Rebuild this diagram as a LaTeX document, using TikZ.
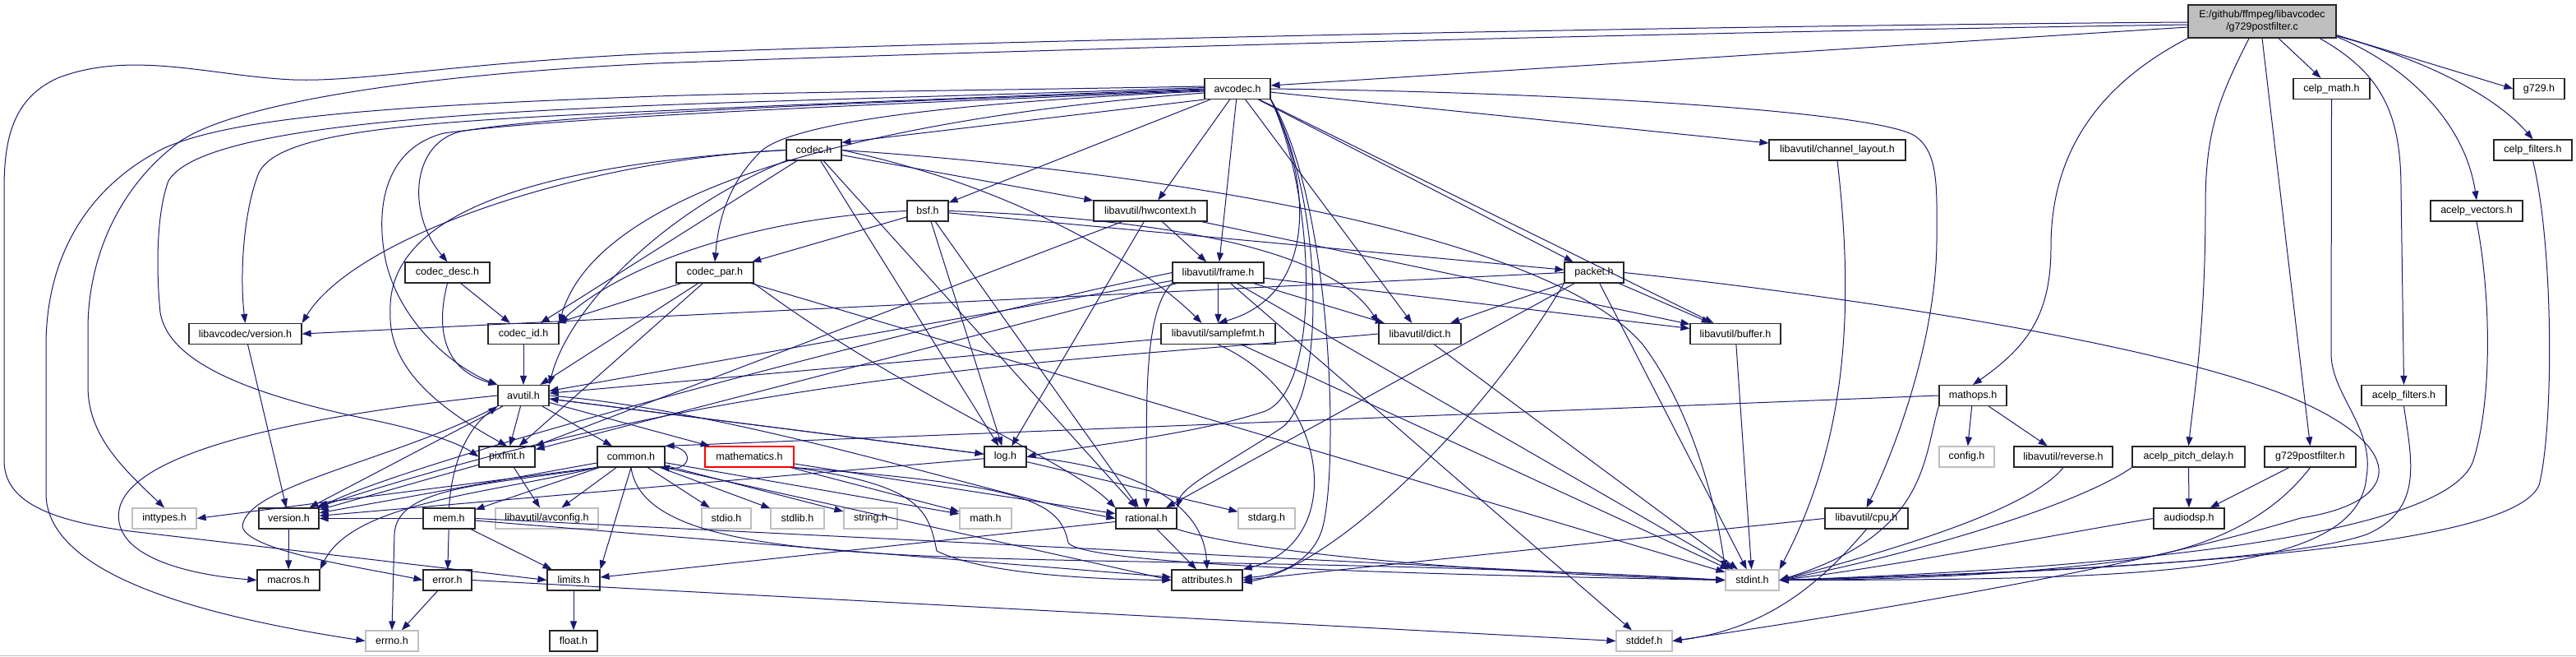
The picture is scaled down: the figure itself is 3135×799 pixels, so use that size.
\documentclass[tikz,border=0pt]{standalone}
\usepackage{fontspec}
\setmainfont{Liberation Sans}
\usetikzlibrary{arrows.meta}
\definecolor{eb}{HTML}{191970}
\definecolor{grey75}{HTML}{BFBFBF}
\newcommand\fsz{\fontsize{12.5}{14.5}\selectfont}
\tikzset{
  nb/.style={draw=black!85, line width=1.2pt, fill=white, minimum height=25pt, inner sep=0pt, font=\fsz, text=black},
  gn/.style={nb, draw=grey75},
  rn/.style={nb, draw=red},
  e/.style={draw=eb, line width=1pt, line join=round, -{Triangle[length=11pt,width=8pt]}},
}
\begin{document}
\begin{tikzpicture}[x=1pt,y=-1pt]
\useasboundingbox (0,0) rectangle (3135,799);
\fill[white] (0,0) rectangle (3135,799);
\draw[grey75, line width=1.5pt] (0,797.5) -- (3135,797.5);

% ---------- nodes ----------
\node[nb, fill=grey75, minimum width=180pt, minimum height=40pt, align=center] (main) at (2753,26) {E:/github/ffmpeg/libavcodec\\/g729postfilter.c};
\node[nb, minimum width=80pt]  (avcodec) at (1506,108) {avcodec.h};
\node[nb, minimum width=93pt]  (celp_math) at (2837.5,108) {celp\_math.h};
\node[nb, minimum width=62pt]  (g729) at (3090,108) {g729.h};
\node[nb, minimum width=67pt]  (codec) at (990.5,182.5) {codec.h};
\node[nb, minimum width=166pt] (channel_layout) at (2236,182.5) {libavutil/channel\_layout.h};
\node[nb, minimum width=95pt]  (celp_filters) at (3082.5,182.5) {celp\_filters.h};
\node[nb, minimum width=50pt]  (bsf) at (1129,256.5) {bsf.h};
\node[nb, minimum width=138pt] (hwcontext) at (1400,256.5) {libavutil/hwcontext.h};
\node[nb, minimum width=112pt] (acelp_vectors) at (3014,256.5) {acelp\_vectors.h};
\node[nb, minimum width=103pt] (codec_desc) at (544.5,331.5) {codec\_desc.h};
\node[nb, minimum width=94pt]  (codec_par) at (870,331.5) {codec\_par.h};
\node[nb, minimum width=111pt] (frame) at (1482.5,331.5) {libavutil/frame.h};
\node[nb, minimum width=72pt]  (packet) at (1940,331.5) {packet.h};
\node[nb, minimum width=137pt] (lavc_version) at (298.5,406) {libavcodec/version.h};
\node[nb, minimum width=86pt]  (codec_id) at (637,406) {codec\_id.h};
\node[nb, minimum width=139pt] (samplefmt) at (1482.5,406) {libavutil/samplefmt.h};
\node[nb, minimum width=100pt] (dict) at (1728,406) {libavutil/dict.h};
\node[nb, minimum width=110pt] (buffer) at (2112,406) {libavutil/buffer.h};
\node[nb, minimum width=62pt]  (avutil) at (637,481) {avutil.h};
\node[nb, minimum width=82pt]  (mathops) at (2401,481) {mathops.h};
\node[nb, minimum width=103pt] (acelp_filters) at (2925.5,481) {acelp\_filters.h};
\node[nb, minimum width=68pt]  (pixfmt) at (617,555.5) {pixfmt.h};
\node[nb, minimum width=82pt]  (common) at (768,555.5) {common.h};
\node[rn, minimum width=108pt] (mathematics) at (912,555.5) {mathematics.h};
\node[nb, minimum width=51pt]  (log) at (1223.5,555.5) {log.h};
\node[gn, minimum width=67pt]  (config) at (2393.5,555.5) {config.h};
\node[nb, minimum width=120pt] (reverse) at (2511,555.5) {libavutil/reverse.h};
\node[nb, minimum width=137pt] (acelp_pitch_delay) at (2663.5,555.5) {acelp\_pitch\_delay.h};
\node[nb, minimum width=111pt] (g729pfh) at (2811.5,555.5) {g729postfilter.h};
\node[gn, minimum width=78pt]  (inttypes) at (200,630.5) {inttypes.h};
\node[nb, minimum width=73pt]  (version) at (351.5,630.5) {version.h};
\node[nb, minimum width=63pt]  (mem) at (546.5,630.5) {mem.h};
\node[gn, minimum width=125pt] (avconfig) at (665.5,630.5) {libavutil/avconfig.h};
\node[gn, minimum width=60pt]  (stdio) at (884,630.5) {stdio.h};
\node[gn, minimum width=65pt]  (stdlib) at (970.5,630.5) {stdlib.h};
\node[gn, minimum width=65pt]  (string) at (1059.5,630.5) {string.h};
\node[gn, minimum width=63pt]  (math) at (1199.5,630.5) {math.h};
\node[nb, minimum width=74pt]  (rational) at (1395,630.5) {rational.h};
\node[gn, minimum width=69pt]  (stdarg) at (1541.5,630.5) {stdarg.h};
\node[nb, minimum width=101pt] (cpu) at (2271.5,630.5) {libavutil/cpu.h};
\node[nb, minimum width=86pt]  (audiodsp) at (2664,630.5) {audiodsp.h};
\node[nb, minimum width=76pt]  (macros) at (351,705.5) {macros.h};
\node[nb, minimum width=59pt]  (error) at (544.5,705.5) {error.h};
\node[nb, minimum width=64pt]  (limits) at (698,705.5) {limits.h};
\node[nb, minimum width=86pt]  (attributes) at (1469,705.5) {attributes.h};
\node[gn, minimum width=65pt]  (stdint) at (2132.5,705.5) {stdint.h};
\node[gn, minimum width=64pt]  (errno) at (477,779.5) {errno.h};
\node[nb, minimum width=58pt]  (float) at (698,779.5) {float.h};
\node[gn, minimum width=68pt]  (stddef) at (2001,779.5) {stddef.h};

% ---------- main ----------
\draw[e] ([yshift=-7pt]main.west) -- ([yshift=4pt]avcodec.east);
\draw[e] ([yshift=-1pt]main.west) .. controls (2000,32) and (1200,50) .. (800,65) .. controls (560,76) and (440,100) .. (357,97) .. controls (260,93) and (160,60) .. (70,95) .. controls (15,120) and (5,170) .. (5,230) -- (5,560) .. controls (5,610) and (60,632) .. (150,645) -- (limits.west);
\draw[e] ([yshift=-4pt]main.west) .. controls (2000,40) and (1200,62) .. (800,77) .. controls (480,92) and (280,130) .. (219,172) .. controls (140,230) and (107,320) .. (107,400) -- (107,470) .. controls (107,530) and (150,570) .. (inttypes.north);
\draw[e] (main.south west) .. controls (2540,110) and (2496,200) .. (2496,300) .. controls (2496,380) and (2470,420) .. (mathops.north);
\draw[e] ([xshift=-16pt]main.south) .. controls (2700,120) and (2684,160) .. (2684,250) .. controls (2684,400) and (2670,480) .. (acelp_pitch_delay.north);
\draw[e] (main.south) -- (g729pfh.north);
\draw[e] ([xshift=20pt]main.south) -- ([xshift=-13pt]celp_math.north);
\draw[e] ([xshift=70pt]main.south) .. controls (2900,90) and (2922,140) .. (2922,230) -- (acelp_filters.north);
\draw[e] ([yshift=2pt]main.south east) .. controls (2930,80) and (3000,150) .. (acelp_vectors.north);
\draw[e] ([yshift=4pt]main.south east) -- (g729.west);
\draw[e] ([yshift=3pt]main.south east) .. controls (2960,75) and (3040,120) .. (celp_filters.north);

% ---------- avcodec ----------
\draw[e] ([yshift=3pt]avcodec.west) .. controls (1200,110) and (950,112) .. (800,117) .. controls (500,128) and (290,140) .. (200,180) .. controls (100,230) and (56,320) .. (56,420) -- (56,600) .. controls (56,700) and (250,750) .. (errno.west);
\draw[e] ([yshift=1.5pt]avcodec.west) .. controls (1200,116) and (950,122) .. (800,128) .. controls (500,140) and (240,160) .. (205,220) .. controls (190,260) and (190,330) .. (195,380) .. controls (205,440) and (300,480) .. (459,512) .. controls (520,525) and (560,540) .. (pixfmt.west);
\draw[e] (avcodec.west) .. controls (1150,120) and (950,128) .. (800,135) .. controls (500,148) and (340,160) .. (315,210) .. controls (295,260) and (292,340) .. (lavc_version.north);
\draw[e] ([yshift=-1pt]avcodec.west) .. controls (1150,122) and (700,135) .. (560,160) .. controls (500,175) and (495,260) .. (codec_desc.north);
\draw[e] ([yshift=-2pt]avcodec.west) .. controls (1150,124) and (700,140) .. (540,162) .. controls (470,180) and (455,250) .. (470,320) .. controls (490,400) and (560,450) .. (avutil.north west);
\draw[e] ([yshift=-3pt]avcodec.west) .. controls (1150,125) and (960,150) .. (925,185) .. controls (885,225) and (874,270) .. (codec_par.north);
\draw[e] ([yshift=-5pt]avcodec.west) .. controls (1100,140) and (730,220) .. (codec_id.north east);
\draw[e] (avcodec.south west) -- ([yshift=-4pt]codec.north east);
\draw[e] (avcodec) -- (bsf);
\draw[e] (avcodec) -- (hwcontext);
\draw[e] (avcodec) -- (frame);
\draw[e] (avcodec.south east) .. controls (1600,230) and (1600,360) .. (samplefmt.north);
\draw[e] (avcodec) -- (dict);
\draw[e] (avcodec) -- (packet);
\draw[e] (avcodec) -- (buffer);
\draw[e] (avcodec) -- (channel_layout);
\draw[e] (avcodec.east) .. controls (1900,112) and (2280,135) .. (2330,165) .. controls (2360,185) and (2357,230) .. (2357,290) .. controls (2357,420) and (2300,560) .. (cpu.north);
\draw[e] (avcodec.south east) .. controls (1620,240) and (1630,560) .. (1610,640) .. controls (1600,680) and (1560,700) .. ([yshift=3pt]attributes.east);
\draw[e] (avcodec.south east) .. controls (1610,240) and (1615,480) .. (1560,520) .. controls (1500,560) and (1440,590) .. (rational.north east);
\draw[e] (avcodec.south east) .. controls (1600,235) and (1610,470) .. (1540,500) .. controls (1450,530) and (1300,545) .. (log.east);

% ---------- codec ----------
\draw[e] (codec.east) .. controls (1500,215) and (1900,300) .. (2000,420) .. controls (2060,500) and (2090,620) .. (stdint.north west);
\draw[e] (codec.south west) .. controls (800,260) and (690,380) .. (avutil.north east);
\draw[e] (codec) -- (hwcontext);
\draw[e] (codec) -- (log);
\draw[e] (codec.west) .. controls (650,200) and (470,260) .. (475,380) .. controls (472,450) and (540,500) .. (pixfmt.north);
\draw[e] (codec) -- (rational);
\draw[e] (codec.east) .. controls (1250,230) and (1400,330) .. ([xshift=-20pt]samplefmt.north);
\draw[e] (codec) -- (codec_id);
\draw[e] (codec.west) .. controls (700,195) and (430,290) .. (lavc_version.north east);

% ---------- bsf ----------
\draw[e] (bsf.east) .. controls (1400,265) and (1620,300) .. (dict.north west);
\draw[e] (bsf) -- (log);
\draw[e] (bsf) -- (rational);
\draw[e] (bsf.west) .. controls (920,265) and (760,320) .. (codec_id.north east);
\draw[e] (bsf) -- (codec_par);
\draw[e] (bsf) -- (packet);

% ---------- hwcontext ----------
\draw[e] (hwcontext) -- (buffer);
\draw[e] (hwcontext) -- (frame);
\draw[e] (hwcontext) -- (log);
\draw[e] (hwcontext) -- (pixfmt);

% ---------- codec_desc / codec_par ----------
\draw[e] (codec_desc.south) .. controls (530,400) and (540,450) .. (avutil.north west);
\draw[e] (codec_desc) -- (codec_id);
\draw[e] (codec_par) -- (stdint);
\draw[e] (codec_par) -- (avutil);
\draw[e] (codec_par.south east) .. controls (1100,480) and (1300,560) .. (rational.north west);
\draw[e] (codec_par) -- (pixfmt);
\draw[e] (codec_par) -- (codec_id);

% ---------- frame ----------
\draw[e] (frame) -- (stddef);
\draw[e] (frame) -- (stdint);
\draw[e] (frame) -- (avutil);
\draw[e] (frame) -- (buffer);
\draw[e] (frame) -- (dict);
\draw[e] (frame.south west) .. controls (1390,380) and (1396,500) .. (rational.north);
\draw[e] (frame) -- (samplefmt);
\draw[e] (frame) -- (pixfmt);
\draw[e] (frame.west) .. controls (1100,400) and (500,560) .. (version.north east);

% ---------- packet ----------
\draw[e] (packet.east) .. controls (2200,355) and (2600,410) .. (2780,480) .. controls (2930,540) and (2930,610) .. (2800,630) .. controls (2600,690) and (2300,740) .. (stddef.east);
\draw[e] (packet) -- (stdint);
\draw[e] (packet.south west) .. controls (1800,520) and (1620,690) .. ([yshift=-3pt]attributes.east);
\draw[e] (packet) -- (buffer);
\draw[e] (packet) -- (dict);
\draw[e] (packet) -- (rational);
\draw[e] (packet.west) -- (lavc_version.east);

% ---------- samplefmt / dict / buffer / lavc_version / codec_id ----------
\draw[e] (samplefmt) -- (stdint);
\draw[e] (samplefmt) -- (avutil);
\draw[e] (samplefmt.south) .. controls (1620,480) and (1640,660) .. (attributes.north east);
\draw[e] (dict) -- (stdint);
\draw[e] (dict.west) .. controls (1300,440) and (900,450) .. ([xshift=-4pt]version.north east);
\draw[e] (buffer) -- (stdint);
\draw[e] (lavc_version) -- (version);
\draw[e] (codec_id) -- (avutil);

% ---------- avutil ----------
\draw[e] (avutil) -- (common);
\draw[e] (avutil.south west) .. controls (480,560) and (300,590) .. (295,640) .. controls (300,670) and (440,690) .. (error.west);
\draw[e] (avutil.east) .. controls (900,500) and (1200,600) .. (rational.west);
\draw[e] (avutil) -- (version);
\draw[e] (avutil.west) .. controls (420,500) and (160,540) .. (145,620) .. controls (135,680) and (240,700) .. (macros.west);
\draw[e] (avutil) -- (mathematics);
\draw[e] (avutil) -- (log);
\draw[e] (avutil) -- (pixfmt);

% ---------- pixfmt ----------
\draw[e] (pixfmt) -- (avconfig);
\draw[e] (pixfmt) -- (version);

% ---------- common ----------
\draw[e] (common.south west) .. controls (600,590) and (482,590) .. (480,650) -- (errno.north);
\draw[e] (common.south west) -- (inttypes.east);
\draw[e] (common.south) -- (limits.north east);
\draw[e] (common) -- (math);
\draw[e] (common.south) .. controls (790,720) and (1300,660) .. (stdint.west);
\draw[e] (common) -- (stdio);
\draw[e] (common) -- (stdlib);
\draw[e] (common) -- (string);
\draw[e] (common.south east) -- (attributes.west);
\draw[e] (common.south west) .. controls (600,600) and (430,610) .. (macros.north east);
\draw[e] (common) -- (version);
\draw[e] (common) -- (avconfig);
\draw[e] (common) -- (mem);
\draw[e] ([xshift=-3pt]common.north east) .. controls (845,540) and (845,572) .. ([xshift=-6pt]common.south east);

% ---------- mem / error / limits ----------
\draw[e] (mem) -- (limits);
\draw[e] (mem.east) -- (stdint.west);
\draw[e] (mem) -- (attributes);
\draw[e] (mem) -- (error);
\draw[e] (mem.north) .. controls (550,560) and (570,520) .. (avutil.south west);
\draw[e] (mem) -- (version);
\draw[e] (error) -- (errno);
\draw[e] (error.east) -- (stddef.west);
\draw[e] (limits) -- (float);

% ---------- mathematics ----------
\draw[e] (mathematics) -- (math);
\draw[e] (mathematics) -- (rational);
\draw[e] (mathematics.south east) .. controls (1250,590) and (1290,610) .. (1300,660) .. controls (1320,690) and (1800,700) .. (stdint.west);
\draw[e] (mathematics.south east) .. controls (1120,590) and (1130,620) .. (1140,670) .. controls (1200,700) and (1350,705) .. (attributes.west);

% ---------- log ----------
\draw[e] (log) -- (stdarg);
\draw[e] (log) -- (avutil);
\draw[e] (log.east) .. controls (1400,570) and (1465,620) .. (attributes.north);
\draw[e] (log) -- (version);

% ---------- rational / version ----------
\draw[e] (rational.south east) .. controls (1550,680) and (1900,700) .. (stdint.west);
\draw[e] (rational) -- (limits);
\draw[e] (rational) -- (attributes);
\draw[e] (version) -- (macros);

% ---------- right side ----------
\draw[e] (mathops.south west) .. controls (2340,560) and (2345,650) .. (stdint.east);
\draw[e] (mathops.west) -- (common.north east);
\draw[e] (mathops) -- (reverse);
\draw[e] (mathops) -- (config);
\draw[e] (reverse.south) .. controls (2470,620) and (2300,670) .. (stdint.east);
\draw[e] (cpu.south) .. controls (2215,710) and (2150,765) .. (stddef.east);
\draw[e] (cpu.west) -- (attributes.east);
\draw[e] (acelp_pitch_delay.south west) .. controls (2520,620) and (2300,680) .. (stdint.east);
\draw[e] (acelp_pitch_delay) -- (audiodsp);
\draw[e] (g729pfh.south) .. controls (2780,610) and (2720,660) .. (2600,680) .. controls (2450,700) and (2300,705) .. (stdint.east);
\draw[e] (g729pfh) -- (audiodsp);
\draw[e] (audiodsp.west) .. controls (2500,650) and (2300,690) .. (stdint.east);
\draw[e] (acelp_filters.south) .. controls (2935,560) and (2950,620) .. (2880,650) .. controls (2780,685) and (2400,700) .. (stdint.east);
\draw[e] (celp_math.south) -- (2837,430) .. controls (2837,480) and (2890,520) .. (2880,580) .. controls (2870,700) and (2600,705) .. (stdint.east);
\draw[e] (acelp_vectors.south) .. controls (3030,350) and (3035,480) .. (3010,560) .. controls (2980,650) and (2600,690) .. (stdint.east);
\draw[e] (celp_filters.south) .. controls (3108,300) and (3108,520) .. (3090,590) .. controls (3060,660) and (2700,690) .. (stdint.east);
\draw[e] (channel_layout.south) .. controls (2260,400) and (2240,550) .. (stdint.north east);
\end{tikzpicture}
\end{document}
